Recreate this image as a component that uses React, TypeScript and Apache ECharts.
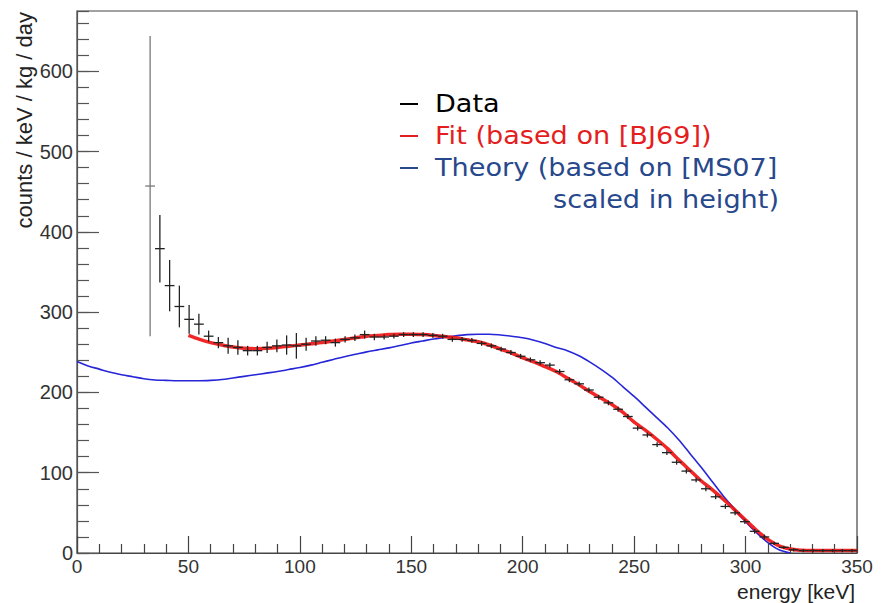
import React, { useEffect, useRef } from "react";
import * as echarts from "echarts";

// ---- Data ----
const BIN_WIDTH = 4.375; // keV
const dataEnergy = [
  32.81, 37.19, 41.56, 45.94, 50.31, 54.69, 59.06, 63.44, 67.81, 72.19,
  76.56, 80.94, 85.31, 89.69, 94.06, 98.44, 102.81, 107.19, 111.56, 115.94,
  120.31, 124.69, 129.06, 133.44, 137.81, 142.19, 146.56, 150.94, 155.31, 159.69,
  164.06, 168.44, 172.81, 177.19, 181.56, 185.94, 190.31, 194.69, 199.06, 203.44,
  207.81, 212.19, 216.56, 220.94, 225.31, 229.69, 234.06, 238.44, 242.81, 247.19,
  251.56, 255.94, 260.31, 264.69, 269.06, 273.44, 277.81, 282.19, 286.56, 290.94,
  295.31, 299.69, 304.06, 308.44, 312.81, 317.19, 321.56, 325.94, 330.31, 334.69,
  339.06, 343.44, 347.81,
];
const dataCounts = [
  457, 379, 333, 307, 291, 285, 270, 262, 258, 256,
  252, 252, 256, 258, 259, 258, 260, 264, 265, 262,
  266, 268, 272, 269, 269, 270, 272, 272, 272, 271,
  270, 266, 266, 264.7, 261, 258, 254, 249.7, 245, 240.6,
  237, 234, 226, 215.7, 210.7, 203, 194, 187, 179, 170,
  155.5, 147, 135, 125, 113, 102, 91, 80, 70, 58,
  50, 39, 27, 20, 12, 7, 4, 3, 3, 3,
  3, 3, 3,
];
const dataErrors = [
  187, 42, 32, 26, 18, 13, 7, 7, 10, 9,
  6, 6, 7, 8, 12, 16, 8, 6, 5, 5,
  4, 4, 5, 4, 3, 3, 3, 3, 3, 3,
  3, 3, 3, 3, 3, 3, 3, 3, 3, 3,
  3, 3, 3, 3, 3, 3, 3, 3, 3, 3,
  3, 3, 3, 3, 3, 3, 3, 3, 3, 3,
  3, 3, 3, 3, 2, 2, 2, 2, 2, 2,
  2, 2, 2,
];

const fitEnergy = [
  50, 55, 60, 65, 70, 75, 80, 85, 90, 95, 100, 105, 110, 115, 120, 125, 130, 135,
  140, 145, 150, 155, 160, 165, 170, 175, 180, 185, 190, 195, 200, 205, 210, 215,
  220, 225, 230, 235, 240, 245, 250, 255, 260, 265, 270, 275, 280, 285, 290, 295,
  300, 305, 310, 315, 320, 325, 330, 335, 340, 345, 350,
];
const fitCounts = [
  271, 266, 262, 259, 256.5, 255, 254.5, 255, 256, 257.5, 259, 260.5, 262, 264, 266, 268, 270, 271,
  272, 272.5, 272.5, 272, 271, 269.5, 268, 265.5, 263, 259, 254, 249, 243, 238, 232, 226,
  218, 210, 201, 193, 185, 175, 163, 153, 142, 130, 116, 103, 90, 79, 67, 54,
  41, 28, 17, 9, 5, 3.5, 3, 3, 3, 3, 3,
];

const theoryEnergy = [
  0, 5, 10, 15, 20, 25, 30, 35, 40, 45, 50, 55, 60, 65, 70, 75, 80, 85, 90, 95,
  100, 105, 110, 115, 120, 125, 130, 135, 140, 145, 150, 155, 160, 165, 170, 175,
  180, 185, 190, 195, 200, 205, 210, 215, 220, 225, 230, 235, 240, 245, 250, 255,
  260, 265, 270, 275, 280, 285, 290, 295, 300, 305, 310, 315, 320,
];
const theoryCounts = [
  238.5, 233, 229, 225, 222, 219.5, 217, 215.5, 215, 214.5, 214.5, 214.5, 215, 216, 218, 220, 222, 224, 226, 228.5,
  231, 234, 237.5, 241, 244.5, 247.5, 250.5, 253, 255.5, 258.5, 261.5, 264, 266.5, 268.5, 270.5, 272,
  272.5, 272.5, 271.5, 270, 268, 265, 261, 256, 252, 246, 238, 229, 219, 207, 195, 182,
  169, 156, 141, 124, 107, 89, 71, 55, 39, 25, 13, 4, 0,
];

const xTicks = { min: 0, max: 350, interval: 50 };
const yTicks = { min: 0, max: 675, interval: 100, minorInterval: 20 };

const legendItems = [
  { label: "Data", color: "#000000", lineColor: "#000000" },
  { label: "Fit (based on [BJ69])", color: "#e41e1e", lineColor: "#e41e1e" },
  { label: "Theory (based on [MS07]", color: "#27488c", lineColor: "#27488c" },
];
const legendExtraLine = "scaled in height)";
const xTitle = "energy [keV]";
const yTitle = "counts / keV / kg / day";

export default function App() {
  const ref = useRef<HTMLDivElement>(null);

  useEffect(() => {
    document.body.style.margin = "0";
    document.body.style.overflow = "hidden";
    if (!ref.current) return;
    const chart = echarts.init(ref.current, undefined, { renderer: "svg" });

    const errData = dataEnergy.map((e, i) => [e, dataCounts[i], dataErrors[i]]);
    const fitData = fitEnergy.map((e, i) => [e, fitCounts[i]]);
    const theoryData = theoryEnergy.map((e, i) => [e, theoryCounts[i]]);

    const axisFont = { fontFamily: "Liberation Sans, Arial, sans-serif", fontSize: 20, color: "#333" };

    const legendGraphics: any[] = [];
    const legendX = 400;
    const legendY0 = 104;
    const legendDy = 32;
    legendItems.forEach((it, i) => {
      const y = legendY0 + i * legendDy;
      legendGraphics.push({
        type: "line",
        shape: { x1: legendX, y1: y, x2: legendX + 18, y2: y },
        style: { stroke: it.lineColor, lineWidth: 2 },
        z: 100,
      });
      legendGraphics.push({
        type: "text",
        x: 435,
        y: y,
        scaleX: 1.13,
        style: {
          text: it.label,
          fill: it.color,
          fontFamily: "DejaVu Sans, Verdana, sans-serif",
          fontSize: 24,
          textVerticalAlign: "middle",
          textAlign: "left",
        },
        z: 100,
      });
    });
    legendGraphics.push({
      type: "text",
      x: 779,
      y: legendY0 + 3 * legendDy,
      scaleX: 1.13,
      style: {
        text: legendExtraLine,
        fill: legendItems[2].color,
        fontFamily: "DejaVu Sans, Verdana, sans-serif",
        fontSize: 24,
        textVerticalAlign: "middle",
        textAlign: "right",
      },
      z: 100,
    });

    chart.setOption({
      animation: false,
      backgroundColor: "#ffffff",
      grid: {
        left: 77,
        right: 24,
        top: 11,
        bottom: 50,
        show: true,
        borderColor: "#444",
        borderWidth: 1.2,
        backgroundColor: "transparent",
      },
      xAxis: {
        type: "value",
        min: xTicks.min,
        max: xTicks.max,
        interval: xTicks.interval,
        axisLine: { show: true, onZero: false, lineStyle: { color: "#444", width: 1.2 } },
        axisTick: { show: true, inside: true, length: 17, lineStyle: { color: "#444", width: 1.2 } },
        minorTick: { show: true, splitNumber: 5, length: 9, lineStyle: { color: "#444", width: 1.2 } },
        splitLine: { show: false },
        axisLabel: { ...axisFont, fontSize: 19, margin: 4 },
      },
      yAxis: [
        {
          type: "value",
          min: yTicks.min,
          max: yTicks.max,
          interval: yTicks.interval,
          axisLine: { show: true, onZero: false, lineStyle: { color: "#555", width: 1.2 } },
          axisTick: { show: true, inside: true, length: 22, lineStyle: { color: "#555", width: 1.2 } },
          splitLine: { show: false },
          axisLabel: { ...axisFont, margin: 4, showMaxLabel: false },
        },
        {
          type: "value",
          position: "left",
          min: yTicks.min,
          max: yTicks.max,
          interval: yTicks.minorInterval,
          axisLine: { show: false },
          axisTick: { show: true, inside: true, length: 12, lineStyle: { color: "#555", width: 1.2 } },
          splitLine: { show: false },
          axisLabel: { show: false },
        },
      ],
      graphic: [
        {
          type: "text",
          x: 24,
          y: 12,
          rotation: Math.PI / 2,
          style: {
            text: yTitle,
            fill: "#222",
            fontFamily: "Liberation Sans, Arial, sans-serif",
            fontSize: 22,
            textAlign: "right",
            textVerticalAlign: "middle",
          },
        },
        {
          type: "text",
          x: 855,
          y: 591,
          style: {
            text: xTitle,
            fill: "#222",
            fontFamily: "Liberation Sans, Arial, sans-serif",
            fontSize: 21,
            textAlign: "right",
            textVerticalAlign: "middle",
          },
        },
        ...legendGraphics,
      ],
      series: [
        {
          name: "Theory",
          type: "line",
          data: theoryData,
          showSymbol: false,
          smooth: 0.3,
          lineStyle: { color: "#2626d8", width: 1.6 },
          z: 2,
        },
        {
          name: "Fit",
          type: "line",
          data: fitData,
          showSymbol: false,
          smooth: 0.3,
          lineStyle: { color: "#f01010", width: 3.5, opacity: 0.9 },
          z: 3,
        },
        {
          name: "Data",
          type: "custom",
          data: errData,
          z: 4,
          clip: true,
          renderItem: (params: any, api: any) => {
            const x = api.value(0);
            const y = api.value(1);
            const e = api.value(2);
            const c = api.coord([x, y]);
            const top = api.coord([x, y + e]);
            const bot = api.coord([x, y - e]);
            const l = api.coord([x - BIN_WIDTH / 2, y]);
            const r = api.coord([x + BIN_WIDTH / 2, y]);
            const stroke = params.dataIndex === 0 ? "#777" : "#222";
            return {
              type: "group",
              children: [
                {
                  type: "line",
                  shape: { x1: c[0], y1: top[1], x2: c[0], y2: bot[1] },
                  style: { stroke, lineWidth: 1.3 },
                },
                {
                  type: "line",
                  shape: { x1: l[0], y1: c[1], x2: r[0], y2: c[1] },
                  style: { stroke, lineWidth: 1.3 },
                },
              ],
            };
          },
        },
      ],
    });

    return () => {
      chart.dispose();
    };
  }, []);

  return <div ref={ref} style={{ width: 881, height: 603 }} />;
}
